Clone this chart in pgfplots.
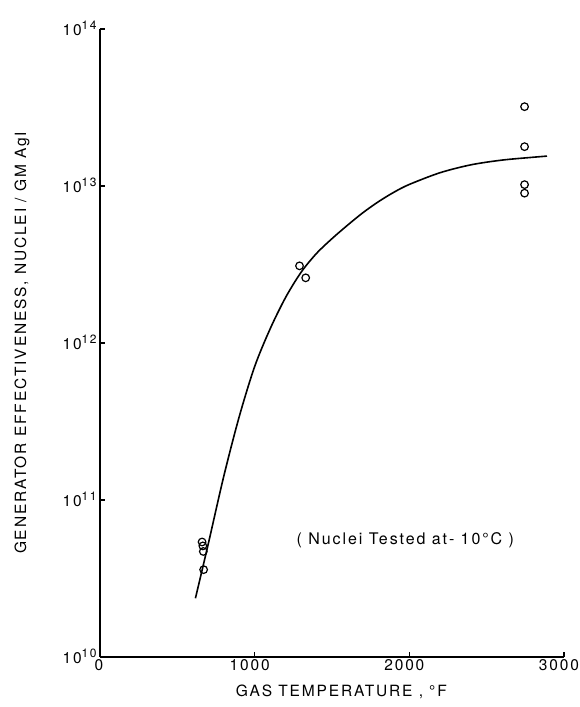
\documentclass[border=0pt]{standalone}
\usepackage{pgfplots}
\pgfplotsset{compat=1.18}
\usepackage{fontspec}
\setmainfont{TeX Gyre Heros}[LetterSpace=12]
\newcommand{\tenp}[1]{10\raisebox{0.75ex}{\fontsize{12}{14}\selectfont #1}}
\begin{document}
\begin{tikzpicture}
\useasboundingbox (-100pt,-50pt) rectangle (479pt,657pt);
\begin{axis}[
  scale only axis,
  width=464pt, height=628pt,
  ymode=log,
  xmin=0, xmax=3000,
  ymin=1e10, ymax=1e14,
  axis lines*=left,
  axis line style={line width=1.4pt},
  tick align=inside,
  major tick length=5pt,
  tick style={line width=1.2pt, black},
  xtick={0,1000,2000,3000},
  xticklabels={\hspace{8pt}0,1000,2000,3000},
  ytick={1e10,1e11,1e12,1e13,1e14},
  yticklabels={\tenp{10},\tenp{11},\tenp{12},\tenp{13},\tenp{14}},
  minor tick num=0,
  log basis y=10,
  ticklabel style={font=\fontsize{15.5}{18}\selectfont},
  xticklabel style={xshift=-5pt, yshift=1pt},
  yticklabel style={yshift=1pt},
  label style={font=\fontsize{15.5}{18}\selectfont},
  xlabel={GAS TEMPERATURE , °F},
  ylabel={GENERATOR EFFECTIVENESS, NUCLEI / GM AgI},
  xlabel style={at={(axis description cs:0.52,0)}, anchor=center, yshift=-35pt},
  ylabel style={at={(axis description cs:0,0.5)}, anchor=center, yshift=78pt},
  clip=false,
]
\addplot[black, line width=1.6pt, smooth] coordinates {
(617,2.366e10) (700,5.25e10) (800,1.413e11) (900,3.39e11) (1000,7.08e11)
(1100,1.23e12) (1200,1.95e12) (1300,2.82e12) (1400,3.72e12) (1500,4.62e12)
(1600,5.62e12) (1700,6.76e12) (1800,7.94e12) (1900,9.12e12) (2000,1.023e13)
(2200,1.216e13) (2400,1.365e13) (2600,1.462e13) (2800,1.524e13) (2890,1.55e13)
};
\addplot[only marks, mark=o, mark size=3.8pt, mark options={line width=1.2pt, black, fill=white}] coordinates {
(660,5.4e10) (665,5.1e10) (668,4.7e10) (670,3.6e10)
(1290,3.1e12) (1330,2.6e12)
(2745,3.2e13) (2745,1.78e13) (2745,1.02e13) (2745,9.0e12)
};
\node[font=\fontsize{16}{18}\selectfont] at (axis cs:1974,5.56e10) {( Nuclei Tested at- 10°C )};
\end{axis}
\end{tikzpicture}
\end{document}
